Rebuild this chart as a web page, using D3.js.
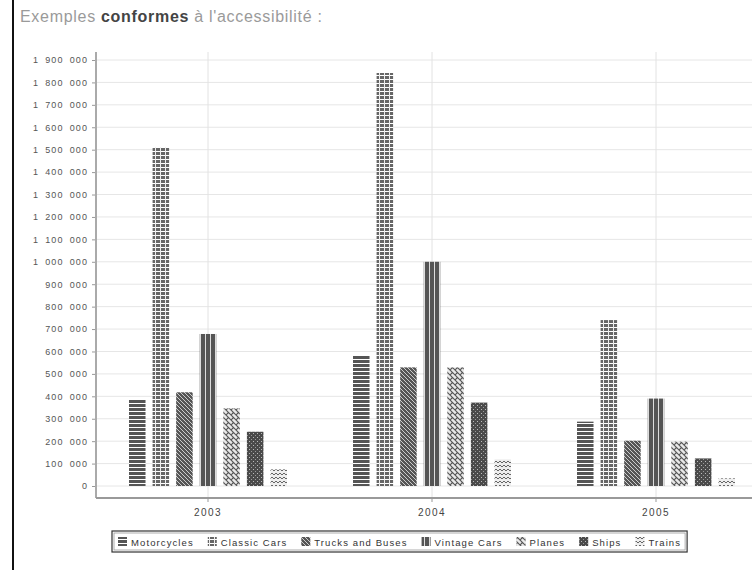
<!DOCTYPE html>
<html>
<head>
<meta charset="utf-8">
<script src="https://cdn.jsdelivr.net/npm/d3@7"></script>
<style>
  body { margin: 0; background: #fff; }
  svg { display: block; font-family: "Liberation Sans", Arial, sans-serif; }
</style>
</head>
<body>
<script>
var years = ["2003", "2004", "2005"];
var series = ["Motorcycles", "Classic Cars", "Trucks and Buses", "Vintage Cars", "Planes", "Ships", "Trains"];

// one array per series, values for 2003, 2004, 2005
var motorcycles = [388000, 584000, 287000];
var classicCars = [1512000, 1842000, 740000];
var trucks = [418000, 529000, 202000];
var vintageCars = [678000, 1000000, 390000];
var planes = [346000, 529000, 198000];
var ships = [242000, 372000, 123000];
var trains = [74000, 119000, 34000];

var yTicks = d3.range(0, 2000000, 100000);

var values = [motorcycles, classicCars, trucks, vintageCars, planes, ships, trains];

var svg = d3.select("body").append("svg")
    .attr("width", 752)
    .attr("height", 570);

// left frame line
svg.append("rect").attr("x", 12).attr("y", 0).attr("width", 2).attr("height", 570).attr("fill", "#111");

// title
var title = svg.append("text").attr("x", 20).attr("y", 22)
    .style("font-size", "16px").style("letter-spacing", "0.7px").style("fill", "#9a9a9a");
title.append("tspan").text("Exemples ");
title.append("tspan").text("conformes").style("font-weight", "bold").style("fill", "#444");
title.append("tspan").text(" à l'accessibilité :");

// patterns
var defs = svg.append("defs");
var ink = "#555";
function pat(id, w, h) {
  var p = defs.append("pattern").attr("id", id).attr("patternUnits", "userSpaceOnUse")
    .attr("width", w).attr("height", h);
  return p;
}
// horizontal stripes
var p0 = pat("p0", 4, 4);
p0.append("rect").attr("width", 4).attr("height", 4).attr("fill", ink);
p0.append("rect").attr("y", 3).attr("width", 4).attr("height", 1).attr("fill", "#fff");
// grid
var p1 = pat("p1", 5, 4);
p1.append("rect").attr("width", 5).attr("height", 4).attr("fill", "#666");
p1.append("rect").attr("y", 3).attr("width", 5).attr("height", 1).attr("fill", "#fff");
p1.append("rect").attr("x", 4).attr("width", 1).attr("height", 4).attr("fill", "#eee");
// diagonal hatch
var p2 = pat("p2", 4, 4);
p2.append("rect").attr("width", 4).attr("height", 4).attr("fill", ink);
p2.append("path").attr("d", "M0,0L4,4M-1,3L1,5M3,-1L5,1").attr("stroke", "#ccc").attr("stroke-width", 1);
// vertical stripes
var p3 = pat("p3", 5, 4);
p3.append("rect").attr("width", 5).attr("height", 4).attr("fill", ink);
p3.append("rect").attr("x", 4).attr("width", 1).attr("height", 4).attr("fill", "#ddd");
// light zigzag
var p4 = pat("p4", 5, 5);
p4.append("rect").attr("width", 5).attr("height", 5).attr("fill", "#e8e8e8");
p4.append("path").attr("d", "M0,0L5,5M-1,4L1,6M4,-1L6,1M0,5L2.5,2.5").attr("stroke", "#555").attr("stroke-width", 1.1);
// dark with white dots
var p5 = pat("p5", 4, 4);
p5.append("rect").attr("width", 4).attr("height", 4).attr("fill", "#4a4a4a");
p5.append("rect").attr("x", 1).attr("y", 1).attr("width", 1).attr("height", 1).attr("fill", "#bbb");
p5.append("rect").attr("x", 3).attr("y", 3).attr("width", 1).attr("height", 1).attr("fill", "#999");
// light zigzag, finer
var p6 = pat("p6", 4, 4);
p6.append("rect").attr("width", 4).attr("height", 4).attr("fill", "#eee");
p6.append("path").attr("d", "M0,1L2,3L4,1").attr("stroke", "#666").attr("fill", "none").attr("stroke-width", 1);

var plotLeft = 96, plotTop = 60, zeroY = 486, axisY = 498;

var x0 = d3.scaleBand().domain(years).range([plotLeft, plotLeft + 224 * years.length]);
var x1 = d3.scaleBand().domain(series).range([0, x0.bandwidth()])
    .paddingInner(0.3).paddingOuter(1.4);
var y = d3.scaleLinear().domain([0, 1900000]).range([zeroY, plotTop]);

var plot = svg.append("g");

// grid
plot.selectAll("line.hg").data(yTicks).enter().append("line")
    .attr("x1", plotLeft).attr("x2", 752)
    .attr("y1", function(d) { return y(d); }).attr("y2", function(d) { return y(d); })
    .attr("stroke", "#e6e6e6").attr("stroke-width", 1);
plot.selectAll("line.vg").data(years).enter().append("line")
    .attr("x1", function(d) { return x0(d) + x0.bandwidth() / 2; })
    .attr("x2", function(d) { return x0(d) + x0.bandwidth() / 2; })
    .attr("y1", 52).attr("y2", axisY)
    .attr("stroke", "#e2e2e2");

// bars
years.forEach(function(yr, yi) {
  var g = plot.append("g").attr("transform", "translate(" + x0(yr) + ",0)");
  g.selectAll("rect").data(series).enter().append("rect")
    .attr("x", function(s) { return x1(s); })
    .attr("width", x1.bandwidth())
    .attr("y", function(s, si) { return y(values[si][yi]); })
    .attr("height", function(s, si) { return zeroY - y(values[si][yi]); })
    .attr("fill", function(s, si) { return "url(#p" + si + ")"; });
});

// axes
var fr = d3.formatLocale({decimal: ",", thousands: "\u2007", grouping: [3], currency: ["", ""]});
var yAxis = d3.axisLeft(y).tickValues(yTicks).tickFormat(fr.format(",")).tickSize(4).tickPadding(4);
var ya = svg.append("g").attr("transform", "translate(" + plotLeft + ",0)").call(yAxis);
ya.select(".domain").remove();
ya.selectAll(".tick line").attr("stroke", "#999");
ya.selectAll(".tick text").style("font-size", "9px").style("letter-spacing", "1.1px")
  .style("fill", "#555").style("font-family", "Liberation Sans, Arial, sans-serif");
svg.append("line").attr("x1", plotLeft).attr("x2", plotLeft).attr("y1", 52).attr("y2", axisY)
  .attr("stroke", "#aaa").attr("stroke-width", 2);

var xAxis = d3.axisBottom(x0).tickSize(4).tickPadding(7);
var xa = svg.append("g").attr("transform", "translate(0," + axisY + ")").call(xAxis);
xa.select(".domain").remove();
xa.selectAll(".tick line").attr("stroke", "#999");
xa.selectAll(".tick text").style("font-size", "10px").style("letter-spacing", "1.5px")
  .style("fill", "#444").style("font-family", "Liberation Sans, Arial, sans-serif");
svg.append("line").attr("x1", plotLeft).attr("x2", 752).attr("y1", axisY).attr("y2", axisY)
  .attr("stroke", "#999").attr("stroke-width", 2);

// legend
var lg = svg.append("g");
var lx = 118, ly = 542, gap = 14;
series.forEach(function(s, i) {
  lg.append("rect").attr("x", lx).attr("y", ly - 5).attr("width", 9).attr("height", 9)
    .attr("fill", "url(#p" + i + ")");
  var t = lg.append("text").attr("x", lx + 13).attr("y", ly + 3.5).text(s)
    .style("font-size", "9.5px").style("letter-spacing", "1.1px").style("fill", "#333");
  lx += 13 + t.node().getComputedTextLength() + gap;
});
var bw = lx - gap - 112 + 6;
lg.append("rect").attr("x", 112).attr("y", 531).attr("width", bw).attr("height", 21)
  .attr("fill", "none").attr("stroke", "#333").attr("stroke-width", 1.2);
lg.append("rect").attr("x", 114).attr("y", 533).attr("width", bw - 4).attr("height", 17)
  .attr("fill", "none").attr("stroke", "#999").attr("stroke-width", 0.8);
</script>
</body>
</html>
